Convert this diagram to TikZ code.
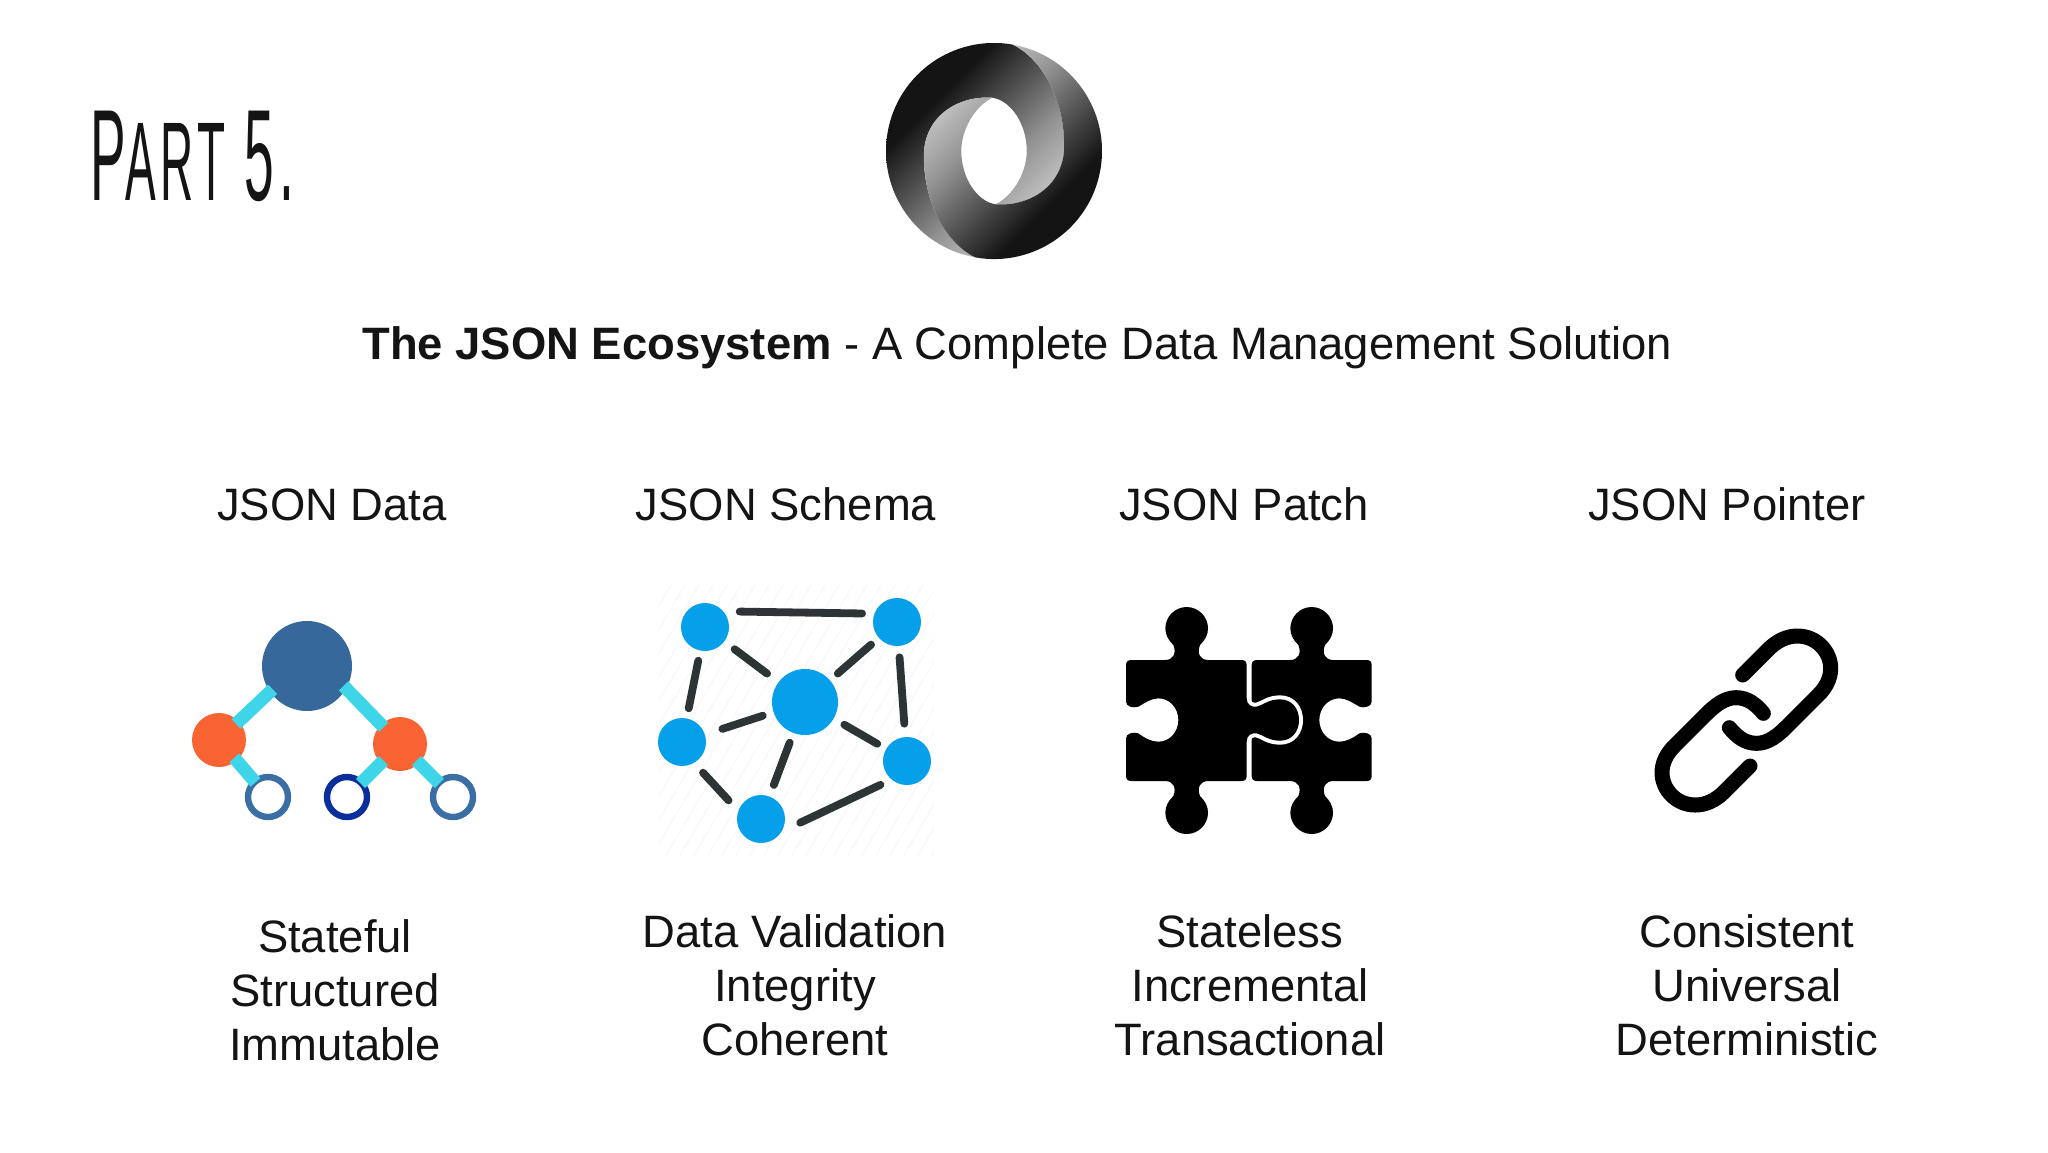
\documentclass[tikz,border=0pt]{standalone}
\usepackage{fontspec}
\usepackage{graphicx}
\setmainfont{Liberation Sans}
\newfontfamily\partfont[LetterSpace=9]{Liberation Sans}
\definecolor{inkc}{HTML}{141414}
\definecolor{rootc}{HTML}{36689C}
\definecolor{orangec}{HTML}{F96432}
\definecolor{cyanc}{HTML}{3ED5E8}
\definecolor{ringc}{HTML}{3C6EA6}
\definecolor{ringd}{HTML}{0A2F9C}
\definecolor{bluec}{HTML}{069FEA}
\definecolor{linkc}{HTML}{2D3436}
\pgfdeclareverticalshading{logoshade}{100bp}{color(0bp)=(white!80!black);color(32bp)=(white!80!black);color(45bp)=(white!58!black);color(56bp)=(white!34!black);color(68bp)=(white!8!black);color(100bp)=(white!8!black)}
\tikzset{
  label/.style={font=\fontsize{22.7}{27}\selectfont,text=inkc,align=center,inner sep=0pt},
  dot/.style={circle,inner sep=0pt,minimum size=#1},
  treeedge/.style={cyanc,line width=6.5pt,shorten >=-2pt,shorten <=-2pt},
  ringnode/.style={circle,inner sep=0pt,minimum size=20pt,fill=white,draw=#1,line width=3.2pt},
  netedge/.style={linkc,line width=3.9pt,line cap=round},
  chain/.style={black,line width=7.5pt,line cap=round,line join=round}
}
\newcommand{\logopart}{(-55.6,-315) arc[start angle=260,end angle=80,radius=320] .. controls (130,280) and (208,170) .. (208,15) .. controls (208,-100) and (110,-165) .. (5,-158) .. controls (60,-130) and (97,-60) .. (97,0) .. controls (97,80) and (50,150) .. (-5,158) .. controls (-110,165) and (-208,100) .. (-208,-15) .. controls (-208,-170) and (-130,-280) .. (-55.6,-315) -- cycle}
\begin{document}
\begin{tikzpicture}[x=.5pt,y=-.5pt]
\useasboundingbox (0,0) rectangle (2048,1152);
\fill[white] (0,0) rectangle (2048,1152);

% Part heading
\node[anchor=base west,inner sep=0pt,text=inkc] (part) at (90,200)
  {\scalebox{.41}[1]{\partfont\fontsize{65}{65}\selectfont P\fontsize{56}{56}\selectfont ART\fontsize{65}{65}\selectfont\ 5.}};

% JSON logo
\begin{scope}[shift={(994,151)},x=.16875pt,y=.16875pt]
  \begin{scope}
    \clip \logopart;
    \shade[shading=logoshade,shading angle=45] (-320,-320) rectangle (320,320);
  \end{scope}
  \begin{scope}
    \clip[rotate=180] \logopart;
    \shade[shading=logoshade,shading angle=225] (-320,-320) rectangle (320,320);
  \end{scope}
\end{scope}

% Title
\node[anchor=base west,label] (title) at (362,359) {\textbf{The JSON Ecosystem} - A Complete Data Management Solution};

% Column headings
\node[anchor=base,label] (h1) at (332,520) {JSON Data};
\node[anchor=base,label] (h2) at (786,520) {JSON Schema};
\node[anchor=base,label] (h3) at (1244,520) {JSON Patch};
\node[anchor=base,label] (h4) at (1727,520) {JSON Pointer};

% Tree icon
\node[dot=45pt,fill=rootc] (root) at (307,666) {};
\node[dot=27pt,fill=orangec] (ol) at (219,740) {};
\node[dot=27pt,fill=orangec] (or) at (400,744) {};
\node[ringnode=ringc] (r1) at (268,797) {};
\node[ringnode=ringd] (r2) at (347,797) {};
\node[ringnode=ringc] (r3) at (453,797) {};
\draw[treeedge] (root.-145) -- (ol);
\draw[treeedge] (root.-30) -- (or);
\draw[treeedge] (ol) -- (r1);
\draw[treeedge] (or) -- (r2);
\draw[treeedge] (or) -- (r3);

% Network icon
\begin{scope}
  \clip (659,585) rectangle (934,857);
  \foreach \s in {497,511,...,937}
    \draw[black!3,line width=.5pt] (\s,857) -- (\s+160,585);
\end{scope}
\node[dot=24pt,fill=bluec] (tl) at (705,627) {};
\node[dot=24pt,fill=bluec] (tr) at (897,622) {};
\node[dot=33pt,fill=bluec] (cn) at (805,702) {};
\node[dot=24pt,fill=bluec] (lf) at (682,742) {};
\node[dot=24pt,fill=bluec] (rt) at (907,761) {};
\node[dot=24pt,fill=bluec] (bt) at (761,819) {};
\draw[netedge,shorten <=8pt,shorten >=6pt] (tl.40) -- (tr.160);
\draw[netedge,shorten <=6.3pt,shorten >=7pt] (tl) -- (cn);
\draw[netedge,shorten <=5pt,shorten >=5pt] (tr) -- (cn);
\draw[netedge,shorten <=5pt,shorten >=5pt] (tl) -- (lf);
\draw[netedge,shorten <=5.5pt,shorten >=6.5pt] (tr) -- (rt);
\draw[netedge,shorten <=5.5pt,shorten >=9pt] (cn) -- (lf);
\draw[netedge,shorten <=6pt,shorten >=5pt] (cn) -- (rt);
\draw[netedge,shorten <=5pt,shorten >=6pt] (cn) -- (bt);
\draw[netedge,shorten <=6.5pt,shorten >=7pt] (lf.-60) -- (bt.160);
\draw[netedge,shorten <=10pt,shorten >=6pt] (bt.-30) -- (rt.-130);

% Puzzle icon
\begin{scope}[shift={(1110,590)},x=.16667pt,y=-.16667pt]
  \fill[black] (441,210) -- (540,210)
    .. controls (565,210) and (575,190) .. (565,165)
    .. controls (550,150) and (541,135) .. (541,115)
    .. controls (541,80) and (570,51) .. (605,51)
    .. controls (640,51) and (669,80) .. (669,115)
    .. controls (669,135) and (660,150) .. (645,165)
    .. controls (635,190) and (645,210) .. (670,210)
    -- (769,210) .. controls (780,210) and (785,215) .. (785,226)
    -- (785,335)
    .. controls (785,350) and (763,355) .. (748,350)
    .. controls (728,338) and (708,325) .. (688,325)
    .. controls (653,325) and (628,355) .. (628,390)
    .. controls (628,425) and (653,455) .. (688,455)
    .. controls (708,455) and (728,445) .. (748,430)
    .. controls (763,425) and (785,430) .. (785,445)
    -- (785,557) .. controls (785,568) and (780,573) .. (769,573)
    -- (670,573)
    .. controls (645,573) and (635,593) .. (645,618)
    .. controls (660,633) and (669,648) .. (669,668)
    .. controls (669,703) and (640,732) .. (605,732)
    .. controls (570,732) and (541,703) .. (541,668)
    .. controls (541,648) and (550,633) .. (565,618)
    .. controls (575,593) and (565,573) .. (540,573)
    -- (441,573) .. controls (430,573) and (425,568) .. (425,557)
    -- (425,226) .. controls (425,215) and (430,210) .. (441,210) -- cycle;
  \draw[white,line width=4pt] (410,325)
    .. controls (410,345) and (425,352) .. (440,350)
    .. controls (460,345) and (475,328) .. (510,328)
    .. controls (545,328) and (567,355) .. (567,390)
    .. controls (567,425) and (545,452) .. (510,452)
    .. controls (475,452) and (460,435) .. (440,430)
    .. controls (425,428) and (410,435) .. (410,455);
  \fill[black] (64,210) -- (165,210)
    .. controls (190,210) and (200,190) .. (190,165)
    .. controls (175,150) and (166,135) .. (166,115)
    .. controls (166,80) and (195,51) .. (230,51)
    .. controls (265,51) and (294,80) .. (294,115)
    .. controls (294,135) and (285,150) .. (270,165)
    .. controls (260,190) and (270,210) .. (295,210)
    -- (394,210) .. controls (405,210) and (410,215) .. (410,226)
    -- (410,325)
    .. controls (410,345) and (425,352) .. (440,350)
    .. controls (460,345) and (475,328) .. (510,328)
    .. controls (545,328) and (567,355) .. (567,390)
    .. controls (567,425) and (545,452) .. (510,452)
    .. controls (475,452) and (460,435) .. (440,430)
    .. controls (425,428) and (410,435) .. (410,455)
    -- (410,557) .. controls (410,568) and (405,573) .. (394,573)
    -- (295,573)
    .. controls (270,573) and (260,593) .. (270,618)
    .. controls (285,633) and (294,648) .. (294,668)
    .. controls (294,703) and (265,732) .. (230,732)
    .. controls (195,732) and (166,703) .. (166,668)
    .. controls (166,648) and (175,633) .. (190,618)
    .. controls (200,593) and (190,573) .. (165,573)
    -- (64,573) .. controls (53,573) and (48,568) .. (48,557)
    -- (48,445)
    .. controls (48,430) and (70,425) .. (85,430)
    .. controls (105,445) and (125,455) .. (145,455)
    .. controls (180,455) and (205,425) .. (205,390)
    .. controls (205,355) and (180,325) .. (145,325)
    .. controls (125,325) and (105,338) .. (85,350)
    .. controls (70,355) and (48,350) .. (48,335)
    -- (48,226) .. controls (48,215) and (53,210) .. (64,210) -- cycle;
\end{scope}

% Chain icon
\begin{scope}[shift={(1640,610)},x=.16667pt,y=-.16667pt]
  \draw[chain] (308,195) -- (385,118)
    .. controls (410,93) and (440,78) .. (472,78)
    .. controls (530,78) and (572,125) .. (572,175)
    .. controls (572,205) and (558,232) .. (535,255)
    -- (440,350)
    .. controls (415,375) and (385,400) .. (350,400)
    .. controls (315,400) and (290,380) .. (268,353);
  \draw[chain] (330,468) -- (253,545)
    .. controls (228,570) and (198,585) .. (166,585)
    .. controls (108,585) and (66,538) .. (66,488)
    .. controls (66,458) and (80,431) .. (103,408)
    -- (198,313)
    .. controls (223,288) and (253,263) .. (288,263)
    .. controls (323,263) and (348,283) .. (370,310);
\end{scope}

% Descriptions
\node[anchor=center,label] (d1) at (335,990) {Stateful\\Structured\\Immutable};
\node[anchor=center,label] (d2) at (795,985) {Data Validation\\Integrity\\Coherent};
\node[anchor=center,label] (d3) at (1250,985) {Stateless\\Incremental\\Transactional};
\node[anchor=center,label] (d4) at (1747,985) {Consistent\\Universal\\Deterministic};
\end{tikzpicture}
\end{document}
